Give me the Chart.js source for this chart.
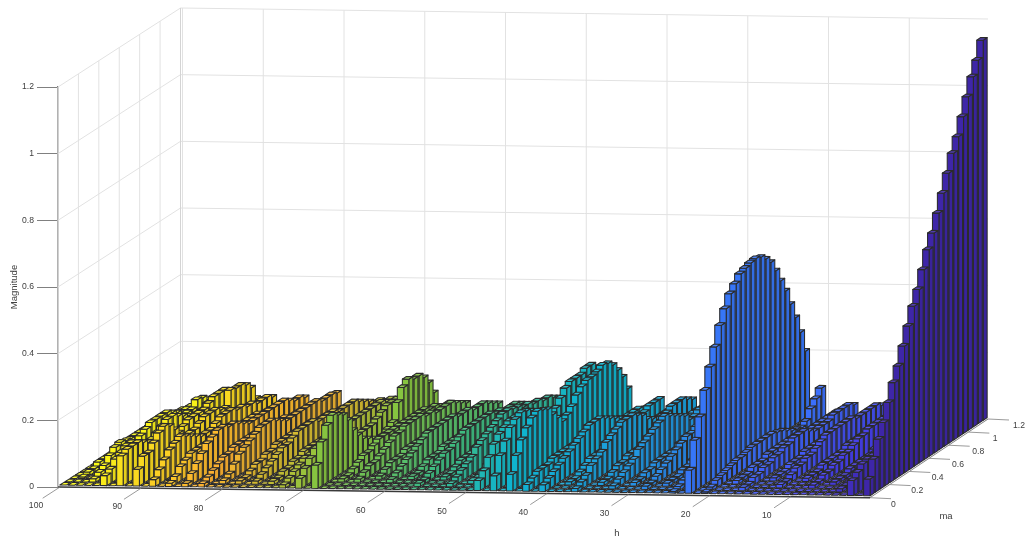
<!DOCTYPE html>
<html><head><meta charset="utf-8">
<style>html,body{margin:0;padding:0;background:#fff}canvas{display:block}</style>
<script src="https://cdn.jsdelivr.net/npm/chart.js@4"></script></head>
<body><canvas id="c" width="1025" height="537"></canvas>
<script>
const maValues=[.05,.1,.15,.2,.25,.3,.35,.4,.45,.5,.55,.6,.65,.7,.75,.8,.85,.9,.95,1,1.05,1.1,1.15,1.2];
const hTicks=[10,20,30,40,50,60,70,80,90,100];
const maTicks=[0,.2,.4,.6,.8,1,1.2];
const evenRow=[0,0,0,0,0,0,0,0,0,0,0,0,0,0,0,0,0,0,0,0,0,0,0,0];
const h1=[.05,.10,.15,.19,.24,.29,.33,.38,.43,.48,.52,.57,.62,.66,.71,.76,.81,.86,.90,.95,1.0,1.05,1.09,1.14];
const h3=[.045,.06,.075,.08,.08,.07,.06,.05,.04,.03,.02,.02,.02,.02,.02,.02,.02,.03,.03,.03,.03,.04,.04,.04];
const h5=[.00,.01,.01,.02,.03,.03,.04,.04,.05,.06,.07,.07,.07,.07,.08,.08,.08,.08,.08,.08,.07,.07,.06,.05];
const h7=[.00,.00,.00,.01,.01,.01,.02,.02,.02,.02,.02,.03,.03,.03,.03,.03,.03,.03,.03,.03,.03,.03,.03,.03];
const h9=[.00,.00,.01,.01,.02,.02,.03,.03,.04,.04,.05,.06,.06,.07,.07,.07,.07,.07,.07,.07,.07,.06,.06,.05];
const h11=[.00,.00,.00,.00,.01,.01,.01,.02,.02,.02,.02,.02,.03,.03,.03,.03,.03,.03,.02,.02,.02,.02,.02,.02];
const h13=[.00,.00,.01,.01,.02,.03,.03,.04,.04,.05,.06,.07,.07,.07,.07,.07,.07,.06,.06,.06,.06,.06,.05,.04];
const h15=[.00,.00,.00,.00,.01,.01,.01,.02,.02,.02,.03,.03,.03,.03,.03,.03,.03,.03,.02,.02,.02,.02,.02,.02];
const h17=[.00,.01,.01,.02,.02,.03,.03,.04,.04,.05,.05,.06,.06,.06,.05,.04,.04,.04,.04,.05,.05,.05,.05,.04];
const h19=[.00,.00,.00,.01,.01,.01,.02,.02,.02,.03,.03,.03,.03,.03,.03,.03,.03,.02,.02,.02,.02,.02,.02,.02];
const h21=[.005,.01,.02,.025,.03,.035,.04,.04,.045,.05,.05,.05,.05,.05,.045,.04,.03,.02,.015,.01,.02,.048,.068,.09];
const h23=[.07,.15,.21,.28,.34,.39,.445,.485,.52,.54,.56,.567,.573,.576,.57,.555,.535,.50,.46,.42,.37,.32,.266,.20];
const h25=[.005,.01,.02,.03,.04,.04,.05,.05,.05,.05,.05,.05,.05,.05,.05,.04,.03,.02,.02,.01,.02,.05,.07,.09];
const h27=[.00,.00,.01,.01,.01,.02,.02,.03,.03,.03,.03,.03,.03,.03,.03,.03,.03,.03,.02,.02,.02,.02,.02,.02];
const h29=[.00,.01,.01,.02,.03,.04,.05,.06,.07,.08,.08,.09,.09,.09,.08,.07,.06,.06,.06,.07,.07,.06,.05,.03];
const h31=[.00,.00,.01,.01,.02,.02,.03,.03,.03,.03,.03,.04,.04,.04,.03,.03,.03,.03,.03,.03,.03,.03,.02,.02];
const h33=[.00,.01,.02,.03,.04,.05,.07,.08,.09,.10,.11,.12,.11,.10,.09,.08,.06,.06,.07,.07,.07,.06,.05,.03];
const h35=[.00,.00,.01,.01,.02,.03,.03,.04,.04,.04,.04,.04,.04,.04,.04,.04,.03,.03,.03,.03,.04,.04,.03,.02];
const h37=[.01,.02,.03,.05,.06,.07,.09,.10,.11,.12,.12,.12,.11,.10,.08,.07,.06,.06,.06,.07,.07,.07,.06,.05];
const h39=[.00,.00,.01,.01,.02,.03,.04,.04,.04,.05,.05,.05,.05,.04,.04,.04,.03,.03,.03,.03,.03,.03,.03,.02];
const h41=[.02,.03,.04,.05,.06,.07,.08,.09,.10,.11,.11,.11,.10,.09,.08,.07,.06,.04,.04,.04,.04,.05,.05,.05];
const h43=[.02,.03,.04,.04,.04,.05,.05,.05,.05,.05,.05,.05,.04,.04,.04,.04,.04,.04,.04,.03,.03,.03,.03,.02];
const h45=[.05,.097,.134,.16,.18,.19,.183,.175,.15,.13,.11,.12,.135,.16,.175,.184,.185,.19,.2,.195,.18,.155,.125,.08];
const h47=[.045,.096,.13,.16,.175,.185,.18,.17,.15,.13,.12,.12,.13,.15,.17,.18,.18,.18,.19,.19,.17,.15,.12,.08];
const h49=[.03,.05,.08,.11,.13,.14,.15,.15,.15,.15,.14,.13,.12,.11,.10,.09,.08,.08,.08,.07,.07,.06,.06,.05];
const h51=[.00,.00,.01,.01,.02,.03,.03,.04,.04,.04,.04,.04,.04,.04,.03,.03,.03,.03,.03,.03,.03,.02,.02,.01];
const h53=[.00,.01,.02,.03,.04,.05,.07,.08,.09,.10,.11,.12,.12,.115,.11,.10,.10,.09,.09,.08,.08,.07,.06,.05];
const h55=[.00,.00,.00,.01,.01,.02,.03,.03,.03,.04,.04,.04,.04,.04,.04,.03,.03,.03,.03,.03,.02,.02,.02,.01];
const h57=[.00,.01,.01,.02,.03,.04,.05,.05,.06,.07,.08,.08,.08,.08,.08,.08,.07,.07,.06,.06,.06,.05,.04,.03];
const h59=[.00,.00,.00,.01,.01,.02,.03,.03,.03,.04,.04,.04,.04,.04,.04,.03,.03,.03,.03,.02,.02,.02,.02,.01];
const h61=[.00,.00,.01,.02,.03,.04,.05,.06,.07,.08,.08,.08,.08,.08,.08,.07,.07,.07,.06,.06,.06,.05,.04,.03];
const h63=[.00,.00,.00,.01,.02,.03,.03,.03,.04,.04,.04,.04,.04,.04,.04,.03,.03,.03,.03,.03,.02,.02,.02,.01];
const h65=[.00,.00,.01,.02,.03,.03,.04,.05,.06,.07,.07,.08,.08,.08,.08,.07,.07,.06,.06,.06,.06,.05,.04,.03];
const h67=[.00,.00,.01,.01,.02,.03,.04,.04,.05,.06,.06,.06,.06,.06,.06,.06,.06,.06,.06,.05,.05,.04,.03,.03];
const h69=[.07,.13,.17,.19,.18,.17,.145,.105,.08,.06,.05,.04,.03,.03,.04,.05,.10,.135,.15,.14,.14,.125,.10,.06];
const h71=[.03,.05,.07,.09,.09,.09,.08,.07,.06,.05,.05,.05,.05,.05,.05,.06,.07,.08,.08,.08,.07,.06,.05,.03];
const h73=[.01,.02,.03,.04,.05,.05,.06,.06,.07,.07,.08,.08,.08,.07,.07,.07,.07,.07,.07,.07,.06,.06,.05,.04];
const h75=[.00,.01,.01,.02,.02,.03,.03,.04,.04,.04,.04,.04,.04,.04,.04,.04,.04,.03,.03,.03,.03,.04,.045,.03];
const h77=[.00,.01,.02,.03,.04,.05,.06,.06,.07,.08,.08,.08,.08,.07,.07,.07,.07,.06,.06,.06,.06,.05,.04,.03];
const h79=[.00,.01,.01,.02,.03,.03,.04,.04,.05,.05,.05,.05,.05,.05,.05,.05,.04,.04,.04,.03,.03,.03,.02,.01];
const h81=[.00,.01,.02,.04,.06,.07,.08,.09,.10,.10,.10,.09,.08,.07,.07,.07,.07,.07,.07,.07,.06,.06,.06,.055];
const h83=[.01,.02,.03,.04,.05,.05,.06,.06,.06,.06,.06,.05,.05,.05,.05,.05,.05,.04,.04,.04,.03,.03,.02,.01];
const h85=[.01,.03,.05,.07,.09,.10,.11,.11,.10,.10,.09,.08,.07,.07,.07,.07,.07,.07,.07,.07,.06,.05,.05,.04];
const h87=[.01,.02,.04,.05,.06,.06,.06,.06,.05,.05,.05,.05,.05,.05,.05,.05,.05,.05,.04,.04,.03,.03,.02,.01];
const h89=[.02,.04,.06,.08,.09,.10,.09,.08,.07,.06,.06,.06,.07,.08,.08,.08,.07,.07,.06,.06,.05,.05,.05,.04];
const h91=[.05,.08,.08,.10,.12,.13,.12,.10,.07,.06,.06,.06,.07,.08,.08,.08,.07,.066,.11,.105,.105,.095,.077,.036];
const h93=[.09,.10,.10,.10,.09,.08,.07,.05,.04,.04,.04,.05,.06,.07,.07,.07,.07,.08,.09,.09,.09,.08,.06,.04];
const h95=[.03,.04,.06,.07,.08,.08,.07,.06,.05,.05,.06,.07,.08,.08,.07,.06,.05,.04,.04,.04,.05,.05,.04,.03];
const h97=[.00,.01,.02,.03,.05,.065,.07,.065,.05,.04,.05,.06,.07,.07,.07,.07,.06,.05,.03,.03,.03,.05,.045,.03];
const h99=[.00,.00,.005,.01,.01,.02,.02,.02,.02,.02,.02,.03,.03,.03,.03,.03,.03,.02,.02,.01,.01,.01,.01,.01];
const oddRows=[h1,h3,h5,h7,h9,h11,h13,h15,h17,h19,h21,h23,h25,h27,h29,h31,h33,h35,h37,h39,h41,h43,h45,h47,h49,h51,h53,h55,h57,h59,h61,h63,h65,h67,h69,h71,h73,h75,h77,h79,h81,h83,h85,h87,h89,h91,h93,h95,h97,h99];

const cmapStops=[[1,'#3e26a8'],[9,'#4740ee'],[21,'#3b6ffb'],[33,'#2196e0'],[45,'#0fb4cf'],[57,'#3fbb80'],[69,'#86c440'],[77,'#d5bb30'],[83,'#fcb030'],[91,'#f9d820'],[99,'#f9fb15']];
const rgb=s=>[1,3,5].map(i=>parseInt(s.substr(i,2),16));
function colourFor(h){
  for(let i=1;i<cmapStops.length;i++){
    if(h<=cmapStops[i][0]){
      const a=cmapStops[i-1],b=cmapStops[i],f=(h-a[0])/(b[0]-a[0]);
      const ca=rgb(a[1]),cb=rgb(b[1]);
      return ca.map((v,k)=>v+(cb[k]-v)*f);
    }
  }
  return rgb(cmapStops[cmapStops.length-1][1]);
}
const shade=(c,k)=>`rgb(${c.map(v=>Math.min(255,Math.round(k<=1?v*k:v+(255-v)*(k-1)))).join(',')})`;

const GRID='#e2e2e2',AXIS='#808080',TEXT='#404040',EDGE='#2b2b2b';
const FONT='"Liberation Sans", Arial, sans-serif';
const TICK=`8.6px ${FONT}`,LABEL=`9.5px ${FONT}`;

const box3d={
  id:'box3d',
  beforeDatasetsDraw(chart){
    const {ctx,scales:{x,y,ma}}=chart;
    const L=x.getPixelForValue(x.max),R=x.getPixelForValue(x.min),base=y.getPixelForValue(0);
    const A=[L,base],B=[R,base+10.7],C=[R+118,base-68],D=[L+122.5,base-79];
    const P=(h,m,z)=>{
      const t=(R-x.getPixelForValue(h))/(R-L),s=(ma.getPixelForValue(m)-L)/(R-L);
      const fx=B[0]+(A[0]-B[0])*t,fy=B[1]+(A[1]-B[1])*t;
      const bx=C[0]+(D[0]-C[0])*t,by=C[1]+(D[1]-C[1])*t;
      return [fx+(bx-fx)*s,fy+(by-fy)*s+y.getPixelForValue(z)-base];
    };
    const line=(a,b,col,w)=>{ctx.beginPath();ctx.moveTo(a[0],a[1]);ctx.lineTo(b[0],b[1]);ctx.strokeStyle=col;ctx.lineWidth=w;ctx.stroke();};
    const hi=x.max,lo=x.min,mMax=ma.max,zMax=y.max;
    ctx.save();
    for(const t of y.ticks){
      line(P(hi,0,t.value),P(hi,mMax,t.value),GRID,1);
      line(P(hi,mMax,t.value),P(lo,mMax,t.value),GRID,1);
    }
    for(const v of hTicks){
      line(P(v,mMax,0),P(v,mMax,zMax),GRID,1);
      line(P(v,0,0),P(v,mMax,0),GRID,1);
    }
    for(const v of maTicks){
      line(P(hi,v,0),P(hi,v,zMax),GRID,1);
      line(P(hi,v,0),P(lo,v,0),GRID,1);
    }
    line(P(hi,mMax,0),P(hi,mMax,zMax),'#d4d4d4',1);
    line(P(lo,0,0),P(lo,mMax,0),AXIS,1);
    const halfH=.4,halfM=.02;
    ctx.lineJoin='round';
    const ds=chart.data.datasets;
    const poly=(pts,fill)=>{ctx.beginPath();pts.forEach((p,i)=>i?ctx.lineTo(p[0],p[1]):ctx.moveTo(p[0],p[1]));ctx.closePath();ctx.fillStyle=fill;ctx.fill();ctx.strokeStyle=EDGE;ctx.lineWidth=1.05;ctx.stroke();};
    for(let m=maValues.length-1;m>=0;m--){
      for(let d=ds.length-1;d>=0;d--){
        const pt=ds[d].data[m],h=pt.x,z=pt.y,mv=maValues[m];
        const c=colourFor(h);
        const f1=P(h+halfH,mv-halfM,0),f2=P(h-halfH,mv-halfM,0),f3=P(h-halfH,mv-halfM,z),f4=P(h+halfH,mv-halfM,z);
        const s1=P(h-halfH,mv+halfM,0),s2=P(h-halfH,mv+halfM,z),t1=P(h+halfH,mv+halfM,z);
        if(z>0){
          poly([f2,s1,s2,f3],shade(c,.92));
          poly([f1,f2,f3,f4],shade(c,1));
        }
        poly([f4,f3,s2,t1],shade(c,1.1));
      }
    }
    line(P(hi,0,0),P(lo,0,0),'#3a3a3a',1.5);
    ctx.fillStyle=TEXT;ctx.font=TICK;ctx.textBaseline='middle';
    for(const v of hTicks){
      const a=P(v,0,0),b=P(v,-.17,0);
      line(a,b,AXIS,.8);
      ctx.textAlign='center';ctx.fillStyle=TEXT;
      ctx.fillText(String(v),a[0]-24,a[1]+19);
    }
    for(const v of maTicks){
      const a=P(lo,v,0);
      line(a,[a[0]+21,a[1]+1],AXIS,.8);
      ctx.textAlign='left';ctx.fillStyle=TEXT;
      ctx.fillText(String(v),a[0]+21+4*v/1.2,a[1]+6.5);
    }
    ctx.font=LABEL;ctx.textAlign='center';
    ctx.fillText('h',617,533);
    ctx.fillText('ma',946,516);
    ctx.restore();
  }
};

const harmonics=[],magnitudes=[];
oddRows.forEach((row,i)=>{harmonics.push(2*i+1,2*i+2);magnitudes.push(row,evenRow);});

new Chart(document.getElementById('c'),{
  type:'scatter',
  data:{datasets:harmonics.map((h,i)=>({label:'h='+h,data:magnitudes[i].map(z=>({x:h,y:z})),pointRadius:0,pointHoverRadius:0,showLine:false}))},
  options:{
    responsive:false,animation:false,events:[],
    layout:{padding:{left:0,top:87,right:155,bottom:50}},
    plugins:{legend:{display:false},tooltip:{enabled:false}},
    scales:{
      x:{type:'linear',reverse:true,min:.25,max:100.25,display:false,ticks:{stepSize:10}},
      ma:{type:'linear',axis:'x',position:'bottom',min:0,max:1.2,display:false},
      y:{type:'linear',min:0,max:1.2,position:'left',
        afterFit(s){s.width=58;},
        border:{display:true,color:AXIS,width:1.5},
        grid:{drawOnChartArea:false,drawTicks:true,tickLength:21,color:AXIS,lineWidth:1},
        ticks:{stepSize:.2,padding:3,color:TEXT,font:{family:FONT,size:8.6},callback:v=>String(Number(v.toFixed(1)))},
        title:{display:true,text:'Magnitude',color:TEXT,font:{family:FONT,size:9.5},padding:{top:9,bottom:0}}
      }
    }
  },
  plugins:[box3d]
});
</script></body></html>
